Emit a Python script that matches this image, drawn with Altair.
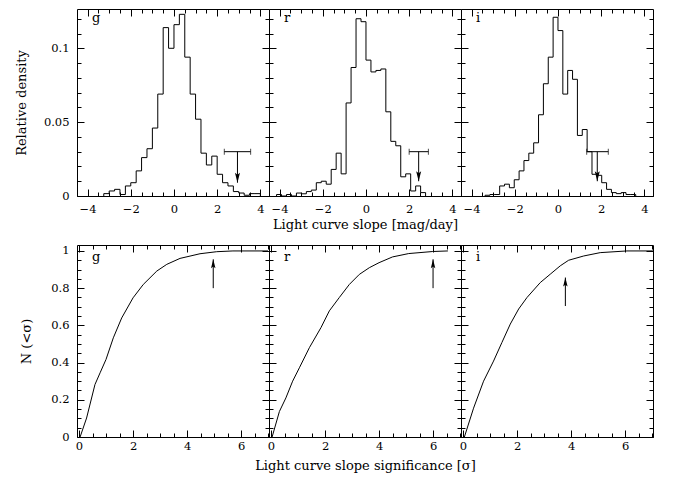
import altair as alt
import pandas as pd

FONT = "DejaVu Serif"

bands = ["g", "r", "i"]

# ---------------- top row: histograms of light curve slope ----------------
hist_first_edge = [-3.25, -4.14, -3.375]
hist_bin_width = [0.25, 0.23, 0.225]
g_hist = [0.0016, 0.0034, 0.0045, 0.0010, 0.0068, 0.0090, 0.0170, 0.0260, 0.0320, 0.0460,
          0.0690, 0.1140, 0.1000, 0.1160, 0.1230, 0.0940, 0.0690, 0.0520, 0.0290, 0.0210,
          0.0270, 0.0147, 0.0090, 0.0068, 0.0030, 0.0020, 0.0005, 0.0016, 0.0016]
r_hist = [0.0010, 0.0000, 0.0010, 0.0000, 0.0020, 0.0015, 0.0030, 0.0040, 0.0090, 0.0100,
          0.0080, 0.0180, 0.0290, 0.0150, 0.0630, 0.0870, 0.1200, 0.1180,
          0.0920, 0.0840, 0.0850, 0.0860, 0.0570, 0.0370, 0.0340, 0.0130, 0.0150, 0.0034,
          0.0068, 0.0023]
i_hist = [0.0005, 0.0010, 0.0010, 0.0068, 0.0080, 0.0056, 0.0110, 0.0170, 0.0240, 0.0290,
          0.0360, 0.0550, 0.0760, 0.0940, 0.1210,
          0.1120, 0.0690, 0.0850, 0.0790, 0.0410, 0.0450, 0.0300, 0.0147, 0.0140, 0.0090,
          0.0045, 0.0023, 0.0016, 0.0023, 0.0010, 0.0010]
hists = [g_hist, r_hist, i_hist]

# upper-limit markers (horizontal error bar + downward arrow)
lim_center = [2.94, 2.44, 1.82]
lim_lo = [2.33, 2.00, 1.33]
lim_hi = [3.55, 2.89, 2.33]
lim_y = [0.030, 0.030, 0.030]
lim_tip = [0.009, 0.010, 0.010]

# ---------------- bottom row: cumulative distributions ----------------
g_cum_x = [0.04, 0.28, 0.59, 0.78, 1.00, 1.27, 1.58, 2.00, 2.38, 2.88, 3.25, 3.74, 4.48, 5.10, 5.70, 7.00]
g_cum_y = [0.000, 0.102, 0.282, 0.345, 0.417, 0.533, 0.640, 0.748, 0.820, 0.892, 0.928, 0.960, 0.985, 0.996, 1.000, 1.000]
r_cum_x = [0.04, 0.31, 0.55, 0.80, 1.05, 1.42, 1.85, 2.16, 2.53, 2.90, 3.27, 3.64, 4.00, 4.50, 5.10, 5.99, 6.55]
r_cum_y = [0.000, 0.137, 0.210, 0.300, 0.372, 0.480, 0.588, 0.678, 0.750, 0.820, 0.874, 0.910, 0.937, 0.968, 0.986, 0.997, 1.000]
i_cum_x = [0.05, 0.39, 0.76, 1.13, 1.44, 1.75, 2.06, 2.37, 2.86, 3.23, 3.60, 3.91, 4.47, 5.08, 6.07, 7.03]
i_cum_y = [0.000, 0.155, 0.300, 0.408, 0.508, 0.607, 0.688, 0.750, 0.830, 0.875, 0.920, 0.950, 0.973, 0.991, 1.000, 1.000]
cums = [(g_cum_x, g_cum_y), (r_cum_x, r_cum_y), (i_cum_x, i_cum_y)]

arrow_x = [4.97, 6.00, 3.79]
arrow_lo = [0.800, 0.800, 0.704]
arrow_hi = [0.955, 0.955, 0.857]

# axis tick values
top_x_major = [-4, -2, 0, 2, 4]
top_x_minor = [-4, -3.5, -3, -2.5, -2, -1.5, -1, -0.5, 0, 0.5, 1, 1.5, 2, 2.5, 3, 3.5, 4]
top_y_major = [0, 0.05, 0.1]
top_y_minor = [0, 0.01, 0.02, 0.03, 0.04, 0.05, 0.06, 0.07, 0.08, 0.09, 0.10, 0.11, 0.12]
bot_x_major = [0, 2, 4, 6]
bot_x_minor = [0, 0.5, 1, 1.5, 2, 2.5, 3, 3.5, 4, 4.5, 5, 5.5, 6, 6.5, 7]
bot_y_major = [0, 0.2, 0.4, 0.6, 0.8, 1]
bot_y_minor = [0, 0.05, 0.1, 0.15, 0.2, 0.25, 0.3, 0.35, 0.4, 0.45, 0.5, 0.55, 0.6, 0.65,
               0.7, 0.75, 0.8, 0.85, 0.9, 0.95, 1.0]

W = 192
H_TOP = 187
H_BOT = 192
TOP_XDOM = [-4.49, 4.4]
TOP_YDOM = [0, 0.1266]
BOT_XDOM = [-0.075, 7.035]
BOT_YDOM = [0, 1.032]

MAJ = 7
MIN = 4

DOWN_HEAD = "M -0.5 -1 L 0 -0.6 L 0.5 -1 L 0 1 Z"
UP_HEAD = "M -0.5 1 L 0 0.6 L 0.5 1 L 0 -1 Z"


def tick_axis(orient, offset, values, size):
    return alt.Axis(orient=orient, offset=offset, values=values, tickSize=size, ticks=True,
                    labels=False, domain=False, grid=False, tickColor="black", tickWidth=1)


def frame_layers(df, xs, ys, h, xmaj, xmin, ymaj, ymin):
    out = []
    for xo, yo, xv, yv, sz in [("top", "right", xmaj, ymaj, MAJ), ("top", "right", xmin, ymin, MIN),
                               ("bottom", "left", xmaj, ymaj, MAJ), ("bottom", "left", xmin, ymin, MIN)]:
        out.append(alt.Chart(df).mark_line(opacity=0).encode(
            x=alt.X("x:Q", scale=xs, axis=tick_axis(xo, -h, xv, sz), title=None),
            y=alt.Y("y:Q", scale=ys, axis=tick_axis(yo, -W, yv, sz), title=None),
        ))
    return out


def label_x_axis(values, pad, title, title_y):
    kw = dict(orient="bottom", values=values, ticks=False, tickSize=0, domain=False, grid=False,
              labelPadding=pad, format="~g", labelFlush=False, labelOverlap=False)
    if title:
        kw.update(titleY=title_y, titleBaseline="alphabetic", titleFontSize=13)
    return alt.Axis(**kw)


def label_y_axis(values, title_x):
    return alt.Axis(orient="left", values=values, ticks=False, tickSize=0, domain=False, grid=False,
                    labelPadding=8, format="~g", labelFlush=False, labelOverlap=False,
                    titleX=title_x, titleBaseline="alphabetic", titleFontSize=13)


def top_panel(k):
    first, width, vals = hist_first_edge[k], hist_bin_width[k], hists[k]
    xs_ = [first] + [first + j * width for j in range(len(vals))] + [first + len(vals) * width]
    ys_ = [0.0] + list(vals) + [0.0]
    df = pd.DataFrame({"x": xs_, "y": ys_, "o": list(range(len(xs_)))})
    xs = alt.Scale(domain=TOP_XDOM, nice=False, zero=False)
    ys = alt.Scale(domain=TOP_YDOM, nice=False, zero=False)

    xtitle = "Light curve slope [mag/day]" if k == 1 else None
    yaxis = label_y_axis(top_y_major, -51.5) if k == 0 else None
    ytitle = "Relative density" if k == 0 else None

    hist = alt.Chart(df).mark_line(interpolate="step-after", color="black", strokeWidth=1).encode(
        x=alt.X("x:Q", scale=xs, axis=label_x_axis(top_x_major, 7, xtitle, 32.5), title=xtitle),
        y=alt.Y("y:Q", scale=ys, axis=yaxis, title=ytitle),
        order=alt.Order("o:Q"),
    )

    lim = pd.DataFrame({"c": [lim_center[k]], "lo": [lim_lo[k]], "hi": [lim_hi[k]],
                        "y": [lim_y[k]], "tip": [lim_tip[k]]})
    caps = pd.DataFrame({"x": [lim_lo[k], lim_hi[k]], "y": [lim_y[k], lim_y[k]]})
    bar = alt.Chart(lim).mark_rule(color="black", strokeWidth=1).encode(
        x=alt.X("lo:Q", scale=xs, axis=None), x2="hi:Q", y=alt.Y("y:Q", scale=ys, axis=None))
    capm = alt.Chart(caps).mark_tick(orient="vertical", size=6, thickness=1, color="black").encode(
        x=alt.X("x:Q", scale=xs, axis=None), y=alt.Y("y:Q", scale=ys, axis=None))
    shaft = alt.Chart(lim).mark_rule(color="black", strokeWidth=1).encode(
        x=alt.X("c:Q", scale=xs, axis=None), y=alt.Y("y:Q", scale=ys, axis=None), y2="tip:Q")
    head = alt.Chart(lim).mark_point(shape=DOWN_HEAD, filled=True, size=100, color="black",
                                     opacity=1, yOffset=-5).encode(
        x=alt.X("c:Q", scale=xs, axis=None), y=alt.Y("tip:Q", scale=ys, axis=None))
    lab = alt.Chart(pd.DataFrame({"t": [bands[k]]})).mark_text(
        align="left", baseline="alphabetic", font=FONT, fontSize=13, color="black").encode(
        x=alt.value(15), y=alt.value(13), text="t:N")

    layers = [hist] + frame_layers(df, xs, ys, H_TOP, top_x_major, top_x_minor, top_y_major, top_y_minor) \
        + [bar, capm, shaft, head, lab]
    return alt.layer(*layers).resolve_axis(x="independent", y="independent").properties(width=W, height=H_TOP)


def bot_panel(k):
    cx, cy = cums[k]
    df = pd.DataFrame({"x": cx, "y": cy})
    xs = alt.Scale(domain=BOT_XDOM, nice=False, zero=False)
    ys = alt.Scale(domain=BOT_YDOM, nice=False, zero=False)

    xtitle = "Light curve slope significance [σ]" if k == 1 else None
    yaxis = label_y_axis(bot_y_major, -46.5) if k == 0 else None
    ytitle = "N (<σ)" if k == 0 else None

    curve = alt.Chart(df).mark_line(color="black", strokeWidth=1, clip=True).encode(
        x=alt.X("x:Q", scale=xs, axis=label_x_axis(bot_x_major, 3.5, xtitle, 32), title=xtitle),
        y=alt.Y("y:Q", scale=ys, axis=yaxis, title=ytitle),
    )
    arr = pd.DataFrame({"x": [arrow_x[k]], "lo": [arrow_lo[k]], "hi": [arrow_hi[k]]})
    shaft = alt.Chart(arr).mark_rule(color="black", strokeWidth=1).encode(
        x=alt.X("x:Q", scale=xs, axis=None), y=alt.Y("lo:Q", scale=ys, axis=None), y2="hi:Q")
    head = alt.Chart(arr).mark_point(shape=UP_HEAD, filled=True, size=80, color="black",
                                     opacity=1, yOffset=4.5).encode(
        x=alt.X("x:Q", scale=xs, axis=None), y=alt.Y("hi:Q", scale=ys, axis=None))
    lab = alt.Chart(pd.DataFrame({"t": [bands[k]]})).mark_text(
        align="left", baseline="alphabetic", font=FONT, fontSize=13, color="black").encode(
        x=alt.value(15), y=alt.value(16), text="t:N")

    layers = [curve] + frame_layers(df, xs, ys, H_BOT, bot_x_major, bot_x_minor, bot_y_major, bot_y_minor) \
        + [shaft, head, lab]
    return alt.layer(*layers).resolve_axis(x="independent", y="independent").properties(width=W, height=H_BOT)


panels = [top_panel(k) for k in range(3)] + [bot_panel(k) for k in range(3)]

chart = alt.concat(*panels, columns=3, spacing={"row": 49, "column": 0}, bounds="flush").properties(
    padding={"left": 7, "top": 0, "right": 5, "bottom": 5}
).configure_view(
    stroke="black", strokeWidth=1
).configure_axis(
    labelFont=FONT, labelFontSize=11.5, labelColor="black",
    titleFont=FONT, titleFontSize=13, titleFontWeight="normal", titleColor="black",
)

chart.save("out.html", embed_options={"renderer": "svg", "actions": False})
